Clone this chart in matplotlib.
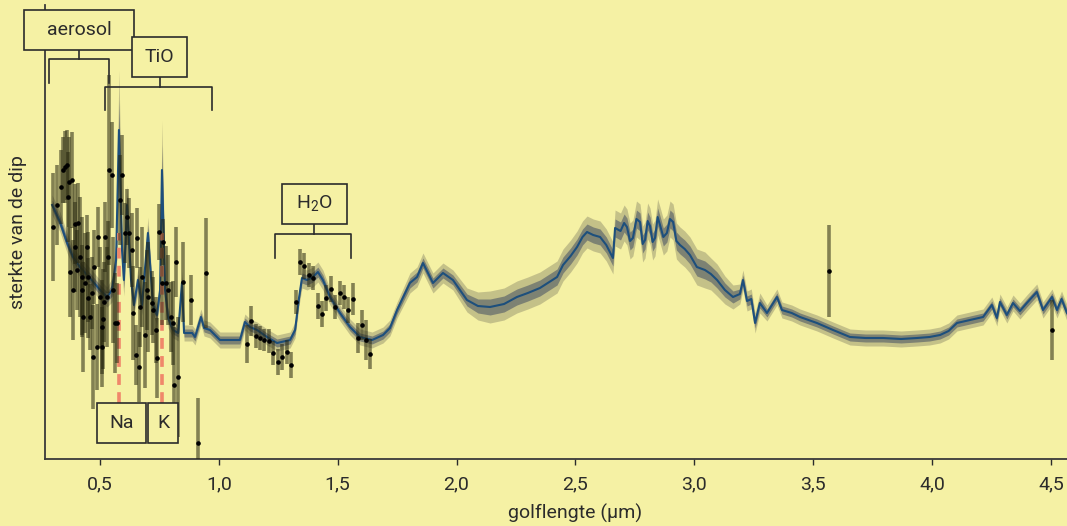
import numpy as np
import matplotlib
matplotlib.use('Agg')
import matplotlib.pyplot as plt
from matplotlib.patches import Rectangle

plt.rcParams['font.family'] = ['Roboto', 'DejaVu Sans']
#-----------------------------------------------------------------
# model spectrum: wavelength (um), depth (arbitrary), 1-sigma half width
model_wl = [0.299, 0.332, 0.362, 0.387, 0.416, 0.458, 0.501, 0.530, 0.551, 0.568,
            0.580, 0.593, 0.601, 0.614, 0.631, 0.643, 0.660, 0.677, 0.702, 0.723,
            0.740, 0.753, 0.761, 0.774, 0.787, 0.808, 0.829, 0.845, 0.854, 0.888,
            0.900, 0.925, 0.938, 0.963, 1.005, 1.089, 1.110, 1.131, 1.161, 1.203,
            1.245, 1.300, 1.321, 1.338, 1.350, 1.371, 1.396, 1.417, 1.438, 1.468,
            1.510, 1.552, 1.594, 1.645, 1.691, 1.720, 1.750, 1.804, 1.834, 1.859,
            1.901, 1.943, 1.985, 2.044, 2.090, 2.141, 2.200, 2.254, 2.300, 2.351,
            2.423, 2.448, 2.480, 2.507, 2.530, 2.549, 2.575, 2.604, 2.630, 2.658,
            2.667, 2.690, 2.705, 2.717, 2.730, 2.742, 2.757, 2.772, 2.783, 2.793,
            2.804, 2.814, 2.825, 2.835, 2.846, 2.856, 2.870, 2.885, 2.898, 2.911,
            2.925, 2.940, 2.960, 2.982, 3.011, 3.045, 3.070, 3.096, 3.129, 3.163,
            3.192, 3.205, 3.222, 3.240, 3.256, 3.276, 3.306, 3.348, 3.369, 3.410,
            3.445, 3.516, 3.584, 3.655, 3.720, 3.794, 3.870, 3.937, 3.990, 4.034,
            4.070, 4.105, 4.160, 4.215, 4.252, 4.273, 4.286, 4.315, 4.341, 4.370,
            4.399, 4.441, 4.467, 4.505, 4.526, 4.545, 4.568]
model_h = [254, 237, 216, 202, 192, 181, 169, 162, 169, 199,
           329, 209, 179, 254, 179, 154, 179, 154, 226, 154,
           144, 169, 289, 169, 141, 129, 126, 176, 126, 126,
           122, 142, 131, 129, 119, 119, 137, 132, 129, 122,
           116, 119, 129, 162, 181, 179, 182, 187, 179, 162,
           146, 132, 122, 119, 124, 131, 149, 176, 182, 196,
           176, 186, 179, 159, 153, 152, 155, 162, 166, 171,
           182, 194, 203, 212, 222, 227, 224, 222, 214, 201,
           231, 228, 236, 232, 218, 221, 240, 237, 215, 219,
           238, 233, 217, 221, 242, 234, 222, 226, 240, 237,
           218, 214, 210, 204, 192, 189, 185, 179, 169, 162,
           165, 179, 158, 160, 136, 156, 146, 162, 149, 146,
           142, 136, 129, 122, 121, 121, 120, 121, 122, 124,
           128, 136, 139, 142, 154, 141, 157, 144, 156, 148,
           156, 167, 149, 162, 149, 160, 146]
model_sig = [5, 5, 5, 5, 5, 5, 5, 5, 6, 10,
             30, 12, 8, 10, 6, 5, 6, 5, 8, 5,
             5, 6, 25, 8, 5, 4, 4, 6, 4, 4,
             4, 4, 4, 4, 4, 4, 4, 4, 4, 4,
             4, 4, 4, 4, 5, 5, 5, 5, 5, 4,
             4, 4, 4, 4, 4, 4, 4, 5, 5, 5,
             5, 5, 5, 6, 7, 8, 8, 8, 8, 8,
             8, 8, 8, 8, 8, 8, 8, 8, 8, 8,
             9, 9, 9, 9, 9, 9, 9, 9, 9, 9,
             9, 9, 9, 9, 9, 9, 9, 9, 9, 9,
             9, 9, 9, 9, 9, 9, 8, 8, 7, 6,
             5, 5, 5, 5, 5, 5, 4, 4, 4, 4,
             4, 4, 4, 4, 4, 4, 4, 4, 4, 4,
             4, 4, 4, 4, 4, 4, 4, 4, 4, 4,
             4, 4, 4, 4, 4, 4, 4]
#-----------------------------------------------------------------
# measurements with error bars
obs_wl = [0.3015, 0.318, 0.335, 0.344, 0.353, 0.360, 0.3655, 0.371, 0.374, 0.381,
          0.388, 0.395, 0.397, 0.402, 0.409, 0.416, 0.4235, 0.425, 0.430, 0.437,
          0.4445, 0.450, 0.451, 0.458, 0.4655, 0.472, 0.477, 0.4865, 0.4935, 0.5005,
          0.5075, 0.509, 0.5145, 0.519, 0.5215, 0.5285, 0.5355, 0.538, 0.5495, 0.5565,
          0.5635, 0.573, 0.5845, 0.592, 0.6055, 0.6155, 0.624, 0.634, 0.6405, 0.652,
          0.6575, 0.666, 0.669, 0.676, 0.690, 0.697, 0.704, 0.718, 0.725, 0.735,
          0.7417, 0.750, 0.760, 0.767, 0.778, 0.788, 0.798, 0.806, 0.813, 0.820,
          0.830, 0.848, 0.882, 0.914, 0.945,
          1.1175, 1.134, 1.157, 1.1735, 1.190, 1.2127, 1.2296, 1.248, 1.266, 1.286,
          1.3025, 1.3235, 1.342, 1.360, 1.3796, 1.398, 1.416, 1.434, 1.4525, 1.471,
          1.490, 1.509, 1.527, 1.545, 1.566, 1.584, 1.6025, 1.619, 1.6375,
          3.567, 4.506]
obs_h = [232, 254, 272, 289, 292, 294, 262, 277, 187, 279,
         169, 212, 235, 189, 236, 202, 182, 169, 142, 176,
         212, 161, 182, 142, 166, 102, 192, 112, 222, 162,
         132, 112, 140, 157, 222, 162, 202, 289, 284, 169,
         136, 136, 259, 284, 226, 242, 226, 209, 146, 104,
         221, 92, 152, 182, 124, 169, 162, 156, 149, 129,
         101, 227, 176, 217, 176, 169, 142, 136, 74, 197,
         82, 177, 159, 16, 186,
         115, 138, 123, 121, 119, 118, 106, 97, 102, 107,
         94, 157, 197, 193, 184, 181, 153, 145, 161, 170,
         152, 166, 162, 149, 160, 121, 134, 119, 105,
         188, 129]
obs_err = [54, 40, 37, 33, 36, 35, 45, 45, 45, 48,
           50, 45, 40, 40, 40, 60, 60, 45, 55, 50,
           32, 40, 45, 33, 36, 52, 37, 43, 30, 50,
           47, 40, 50, 40, 35, 50, 36, 95, 53, 53,
           50, 40, 45, 40, 30, 28, 35, 37, 47, 30,
           30, 35, 40, 50, 53, 40, 55, 32, 33, 33,
           40, 28, 42, 23, 37, 35, 35, 42, 58, 35,
           60, 40, 25, 45, 55,
           19, 15, 12, 12, 11, 12, 12, 13, 13, 12,
           13, 12, 13, 13, 12, 12, 13, 13, 13, 13,
           12, 12, 12, 13, 16, 15, 15, 20, 15,
           46, 30]
#-----------------------------------------------------------------
xticks = [0.5, 1.0, 1.5, 2.0, 2.5, 3.0, 3.5, 4.0, 4.5]
xtick_labels = ['0,5', '1,0', '1,5', '2,0', '2,5', '3,0', '3,5', '4,0', '4,5']
na_wl = 0.581
k_wl = 0.763

bg = '#f5f1a4'
ink = '#2b2b2b'

fig = plt.figure(figsize=(10.67, 5.26), dpi=100, facecolor=bg)
ax = fig.add_axes([45/1067, 67/526, 1022/1067, 454/526])
ax.set_facecolor(bg)

mw = np.array(model_wl)
mh = np.array(model_h)
ms = np.array(model_sig)
ax.fill_between(mw, mh - 2*ms, mh + 2*ms, color='#8a8768', alpha=0.45, lw=0, zorder=1)
ax.fill_between(mw, mh - ms, mh + ms, color='#4f5866', alpha=0.6, lw=0, zorder=2)
ax.plot(mw, mh, color='#1d4f7c', lw=1.5, zorder=3)

# Na and K lines
for w in [na_wl, k_wl]:
    ax.plot([w, w], [56, 226], color='#f0876a', lw=2.6, ls=(0, (3, 2)), zorder=4)

ax.errorbar(obs_wl, obs_h, yerr=obs_err, fmt='o', ms=2.3, color='black',
            ecolor=(0.15, 0.15, 0.06, 0.55), elinewidth=2.6, capsize=0, zorder=5)

ax.set_xlim(0.269, 4.568)
ax.set_ylim(0, 454)
ax.set_yticks([])
ax.set_xticks(xticks, xtick_labels)
ax.tick_params(axis='x', direction='out', length=4, width=1, colors=ink,
               labelsize=14, pad=8)
for s in ['top', 'right']:
    ax.spines[s].set_visible(False)
for s in ['left', 'bottom']:
    ax.spines[s].set_color('#3a3a3a')
    ax.spines[s].set_linewidth(1.3)

fig.text(575/1067, 1 - 513/526, 'golflengte (\u00b5m)', ha='center', va='center',
         fontsize=14, color=ink)
ax.set_ylabel('sterkte van de dip', fontsize=14, color=ink)
ax.yaxis.set_label_coords(-0.018, 0.5)

#-----------------------------------------------------------------
def box(x0, x1, y0, y1, label):
    ax.add_patch(Rectangle((x0, y0), x1 - x0, y1 - y0, facecolor=bg, edgecolor=ink,
                           lw=1.2, clip_on=False, zorder=10))
    ax.text((x0 + x1) / 2, (y0 + y1) / 2, label, ha='center', va='center',
            fontsize=14, color=ink, zorder=11)

def bracket(xc, x0, x1, ytop, ymid, ybot):
    ax.plot([xc, xc], [ytop, ymid], color=ink, lw=1.2, clip_on=False, zorder=9)
    ax.plot([x0, x0, x1, x1], [ybot, ymid, ymid, ybot], color=ink, lw=1.2,
            clip_on=False, zorder=9)

bracket(0.412, 0.286, 0.538, 409, 400, 376)
box(0.181, 0.6435, 409, 449, 'aerosol')
bracket(0.753, 0.5216, 0.9716, 382, 372, 349)
box(0.635, 0.8665, 382, 422, 'TiO')
bracket(1.4006, 1.2366, 1.556, 235, 225, 201)
box(1.266, 1.5395, 235, 275, r'H$_\mathregular{2}$O')
box(0.488, 0.694, 16, 56, 'Na')
box(0.7024, 0.8286, 16, 56, 'K')

fig.savefig('out.png', dpi=100, facecolor=bg)
